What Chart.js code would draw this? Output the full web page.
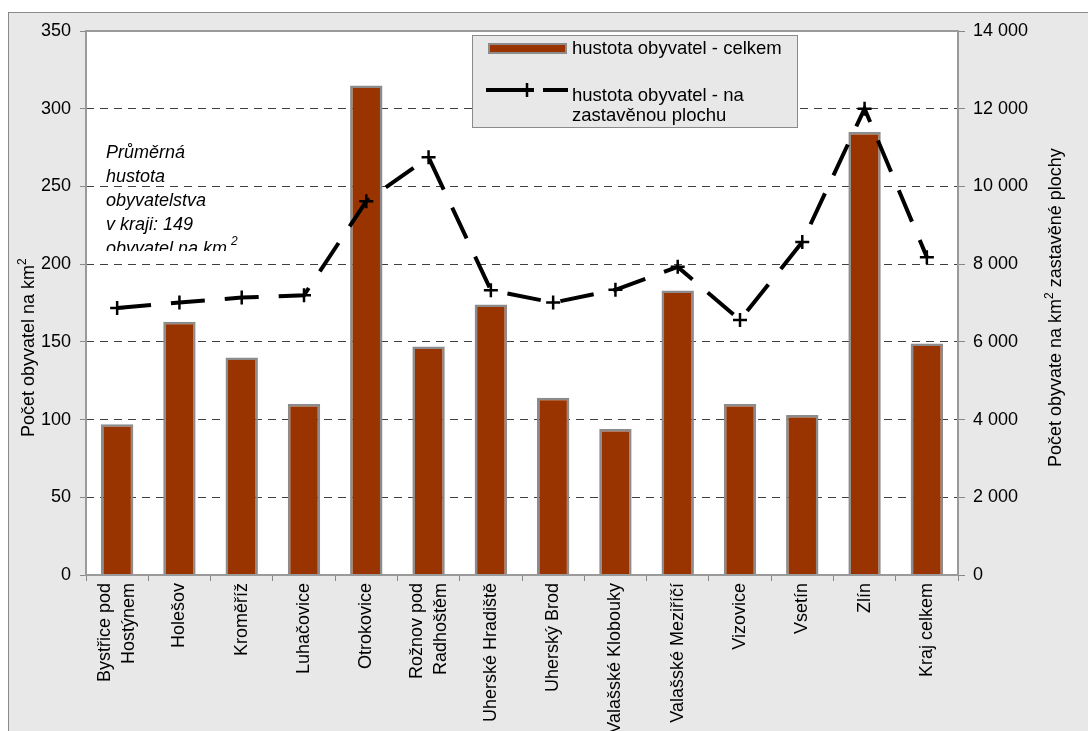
<!DOCTYPE html>
<html>
<head>
<meta charset="utf-8">
<script src="https://cdn.jsdelivr.net/npm/chart.js@4.4.1/dist/chart.umd.min.js"></script>
<style>
  html, body { margin: 0; padding: 0; background: #fff; overflow: hidden; }
  #ramec { position: absolute; left: 8px; top: 12px; width: 1100px; height: 800px; background: #e8e8e8; border: 1px solid #8a8a8a; }
  #obal { position: absolute; left: 0; top: 0; width: 1088px; height: 800px; }
</style>
</head>
<body>
<div id="ramec"></div>
<div id="obal"><canvas id="graf"></canvas></div>
<script>
// ── data ──
const kategorie = [
  ["Bystřice pod", "Hostýnem"], "Holešov", "Kroměříž", "Luhačovice", "Otrokovice",
  ["Rožnov pod", "Radhoštěm"], "Uherské Hradiště", "Uherský Brod", "Valašské Klobouky",
  "Valašské Meziříčí", "Vizovice", "Vsetín", "Zlín", "Kraj celkem"
];
const hustotaCelkem = [97, 163, 140, 110, 315, 147, 174, 114, 94, 183, 110, 103, 285, 149];
const hustotaZastavena = [6870, 7010, 7140, 7200, 9620, 10750, 7330, 7010, 7340, 7930, 6560, 8570, 12000, 8180];

const levaOsa = { max: 350, krok: 50 };
const pravaOsa = { max: 14000, krok: 2000 };

const poznamka = ["Průměrná", "hustota", "obyvatelstva", "v kraji: 149", "obyvatel na km"];

const FONT = '"Liberation Sans", Arial, sans-serif';

function fmt(v) {
  return String(v).replace(/\B(?=(\d{3})+(?!\d))/g, " ");
}

// svisly popisek osy s horním indexem
function svislyText(c, x, y, casti) {
  c.save();
  c.translate(x, y);
  c.rotate(-Math.PI / 2);
  c.textAlign = "left";
  c.textBaseline = "alphabetic";
  c.fillStyle = "#000";
  let pos = 0;
  casti.forEach((p) => {
    c.font = (p.sup ? "12px " : "18px ") + FONT;
    c.fillText(p.t, pos, p.sup ? -8 : 0);
    pos += c.measureText(p.t).width;
  });
  c.restore();
}

const dekorace = {
  id: "dekorace",
  beforeDraw(chart) {
    const a = chart.chartArea, c = chart.ctx;
    c.save();
    c.fillStyle = "#fff";
    c.fillRect(a.left, a.top, a.right - a.left, a.bottom - a.top);
    c.restore();
  },
  afterDraw(chart) {
    const c = chart.ctx, a = chart.chartArea;
    c.save();

    // rámeček plochy
    c.strokeStyle = "#9a9a9a";
    c.lineWidth = 2;
    c.strokeRect(a.left, a.top, a.right - a.left, a.bottom - a.top);

    // popisky kategorií
    const sx = chart.scales.x;
    c.font = "18px " + FONT;
    c.fillStyle = "#000";
    c.textAlign = "right";
    c.textBaseline = "middle";
    kategorie.forEach((lab, i) => {
      const radky = Array.isArray(lab) ? lab : [lab];
      c.save();
      c.translate(sx.getPixelForTick(i), a.bottom + 8);
      c.rotate(-Math.PI / 2);
      radky.forEach((t, j) => c.fillText(t, 0, (j - (radky.length - 1) / 2) * 24));
      c.restore();
    });

    // poznámka (oříznutá)
    c.save();
    c.beginPath();
    c.rect(a.left, a.top, 300, 251 - a.top);
    c.clip();
    c.font = "italic 18px " + FONT;
    c.textAlign = "left";
    c.textBaseline = "alphabetic";
    poznamka.forEach((t, i) => c.fillText(t, 106, 158 + i * 24));
    const w = c.measureText(poznamka[poznamka.length - 1]).width;
    c.font = "italic 12px " + FONT;
    c.fillText("2", 106 + w + 4, 158 + 4 * 24 - 9);
    c.restore();

    // legenda
    c.fillStyle = "#e8e8e8";
    c.fillRect(472, 35, 325, 92);
    c.strokeStyle = "#8a8a8a";
    c.lineWidth = 1;
    c.strokeRect(472.5, 35.5, 325, 92);
    c.fillStyle = "#993300";
    c.fillRect(489, 44, 77, 9);
    c.strokeStyle = "#8c8c8c";
    c.lineWidth = 2;
    c.strokeRect(489, 44, 77, 9);
    c.strokeStyle = "#000";
    c.lineWidth = 4;
    c.beginPath();
    c.moveTo(486, 90); c.lineTo(534, 90);
    c.moveTo(543, 90); c.lineTo(568, 90);
    c.stroke();
    c.lineWidth = 2.5;
    c.beginPath();
    c.moveTo(527, 83); c.lineTo(527, 97);
    c.moveTo(520, 90); c.lineTo(534, 90);
    c.stroke();
    c.fillStyle = "#000";
    c.font = "18.5px " + FONT;
    c.textAlign = "left";
    c.textBaseline = "alphabetic";
    c.fillText("hustota obyvatel - celkem", 572, 54);
    c.fillText("hustota obyvatel - na", 572, 101);
    c.fillText("zastavěnou plochu", 572, 121);

    c.restore();

    // názvy os
    svislyText(c, 34, 437, [{ t: "Počet obyvatel na km" }, { t: "2", sup: true }]);
    svislyText(c, 1061, 467, [{ t: "Počet obyvate na km" }, { t: "2", sup: true }, { t: " zastavěné plochy" }]);
  }
};

new Chart(document.getElementById("graf"), {
  data: {
    labels: kategorie,
    datasets: [
      {
        type: "line",
        label: "hustota obyvatel - na zastavěnou plochu",
        data: hustotaZastavena,
        yAxisID: "y1",
        order: 0,
        borderColor: "#000",
        borderWidth: 4,
        borderDash: [34, 20],
        pointStyle: "cross",
        pointRadius: 7,
        pointBorderWidth: 2.5,
        pointBorderColor: "#000",
        pointBackgroundColor: "#000",
        tension: 0,
        fill: false,
      },
      {
        type: "bar",
        label: "hustota obyvatel - celkem",
        data: hustotaCelkem,
        yAxisID: "y",
        order: 1,
        backgroundColor: "#993300",
        borderColor: "#8c8c8c",
        borderWidth: 2.5,
        barPercentage: 0.52,
        categoryPercentage: 1,
      },
    ],
  },
  options: {
    responsive: true,
    maintainAspectRatio: false,
    animation: false,
    layout: { padding: { top: 31, left: 0, right: 0, bottom: 0 } },
    plugins: { legend: { display: false }, tooltip: { enabled: false } },
    scales: {
      x: {
        offset: true,
        grid: { drawOnChartArea: false, drawTicks: true, tickLength: 6, color: "#888", offset: true },
        border: { display: false },
        ticks: { display: false },
        afterFit: (s) => { s.height = 225; },
      },
      y: {
        position: "left",
        min: 0,
        max: levaOsa.max,
        ticks: { stepSize: levaOsa.krok, font: { size: 18, family: FONT }, color: "#000", padding: 9 },
        grid: { color: "#404040", tickColor: "#888", tickLength: 6, tickBorderDash: [6, 0] },
        border: { display: false, dash: [8, 6] },
        afterFit: (s) => { s.width = 86; },
      },
      y1: {
        position: "right",
        min: 0,
        max: pravaOsa.max,
        ticks: { stepSize: pravaOsa.krok, font: { size: 18, family: FONT }, color: "#000", padding: 8, callback: (v) => fmt(v) },
        grid: { drawOnChartArea: false, tickColor: "#888", tickLength: 7 },
        border: { display: false },
        afterFit: (s) => { s.width = 130; },
      },
    },
  },
  plugins: [dekorace],
});
</script>
</body>
</html>
